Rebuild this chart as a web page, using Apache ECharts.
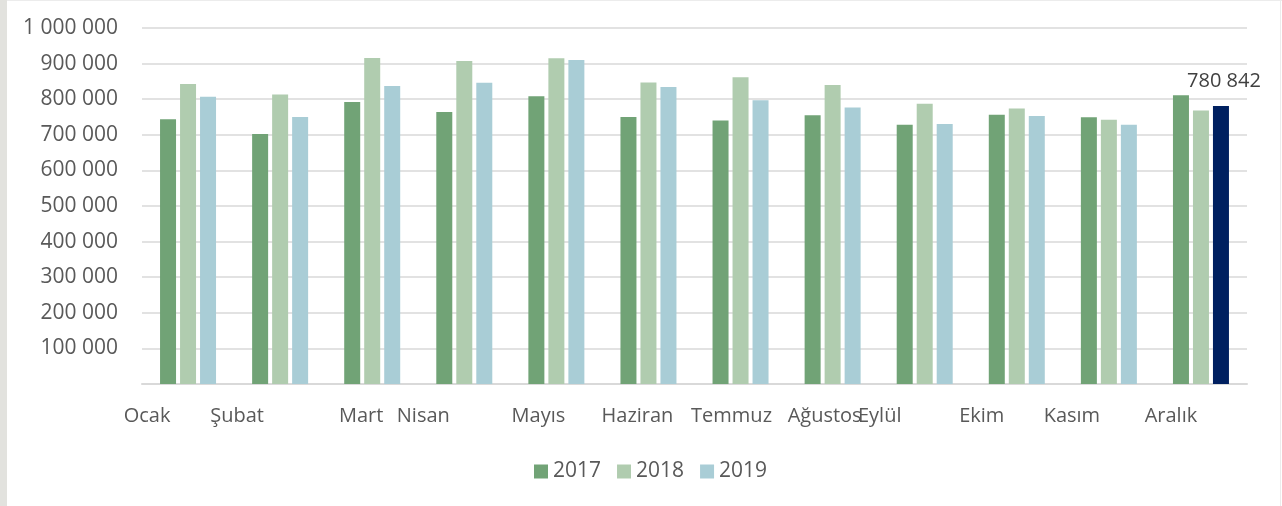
<!DOCTYPE html>
<html>
<head>
<meta charset="utf-8">
<script src="https://cdn.jsdelivr.net/npm/echarts@6/dist/echarts.min.js"></script>
<style>
  html, body { margin: 0; padding: 0; background: #fff; }
  #wrap { position: absolute; left: 0; top: 0; width: 1282px; height: 506px; background: #fff; }
  #strip { position: absolute; left: 0; top: 0; width: 7px; height: 506px; background: #e2e2de; }
  #topline { position: absolute; left: 7px; top: 0; width: 1275px; height: 1px; background: #ececec; }
  #rightline { position: absolute; left: 1280px; top: 0; width: 1px; height: 506px; background: #ececec; }
  #chart { position: absolute; left: 0; top: 0; width: 1282px; height: 506px; }
</style>
</head>
<body>
<div id="wrap">
  <div id="strip"></div>
  <div id="topline"></div>
  <div id="rightline"></div>
  <div id="chart"></div>
</div>
<script>
  // aylar
  const months = ['Ocak', 'Şubat', 'Mart', 'Nisan', 'Mayıs', 'Haziran', 'Temmuz', 'Ağustos', 'Eylül', 'Ekim', 'Kasım', 'Aralık']
  const years = ['2017', '2018', '2019']
  const data2017 = [744000, 702000, 792000, 764000, 808000, 750000, 740000, 755000, 728000, 756000, 749000, 811000]
  const data2018 = [843000, 813000, 916000, 907000, 915000, 847000, 862000, 840000, 787000, 774000, 742000, 768000]
  const data2019 = [807000, 750000, 837000, 846000, 910000, 834000, 797000, 777000, 730000, 753000, 728000, 780842]
  const yTicks = [0, 100000, 200000, 300000, 400000, 500000, 600000, 700000, 800000, 900000, 1000000]

  // son ay vurgulanir
  const lastIdx = 11
  // etiketler Excel'deki gibi sola kayik (px)
  const labelShift = [41, 43, 11, 41, 18, 11, 9, 8, 45, 35, 37, 30]

  const font = "'Open Sans', 'Noto Sans', sans-serif"
  const colors = ['#71a376', '#b0ccaf', '#a9cdd6']

  const fmt = v => String(v).replace(/\B(?=(\d{3})+(?!\d))/g, ' ')

  const chart = echarts.init(document.getElementById('chart'))

  const catData = months.map((m, i) => ({
    value: m,
    textStyle: { padding: [0, labelShift[i] * 2, 0, 0] }
  }))

  const series = [data2017, data2018, data2019].map((arr, s) => ({
    name: years[s],
    type: 'bar',
    barWidth: 16,
    barGap: '25%',
    itemStyle: { color: colors[s] },
    data: arr.map((v, i) => {
      if (s === 2 && i === lastIdx) {
        return {
          value: v,
          itemStyle: { color: '#002060' },
          label: {
            show: true,
            position: 'top',
            distance: 15,
            offset: [3, 0],
            formatter: p => fmt(p.value),
            fontFamily: font,
            fontSize: 20,
            color: '#404040'
          }
        }
      }
      return v
    })
  }))

  const option = {
    animation: false,
    textStyle: { fontFamily: font },
    grid: { left: 142, right: 35, top: 28, bottom: 122 },
    legend: {
      data: years,
      top: 456,
      left: 529,
      icon: 'rect',
      itemWidth: 14,
      itemHeight: 14,
      itemGap: 16,
      textStyle: { fontFamily: font, fontSize: 21, color: '#595959' }
    },
    xAxis: {
      type: 'category',
      data: catData,
      axisLine: { lineStyle: { color: '#d9d9d9', width: 2 } },
      axisTick: { show: false },
      axisLabel: {
        interval: 0,
        margin: 22,
        fontFamily: font,
        fontSize: 20,
        color: '#595959'
      }
    },
    yAxis: {
      type: 'value',
      min: yTicks[0],
      max: yTicks[yTicks.length - 1],
      interval: yTicks[1] - yTicks[0],
      axisLine: { show: false },
      axisTick: { show: false },
      splitLine: { lineStyle: { color: '#d9d9d9', width: 1.5 } },
      axisLabel: {
        margin: 24,
        fontFamily: font,
        fontSize: 21,
        color: '#595959',
        formatter: v => (v === 0 ? '' : fmt(v))
      }
    },
    series: series
  }

  chart.setOption(option)
</script>
</body>
</html>
